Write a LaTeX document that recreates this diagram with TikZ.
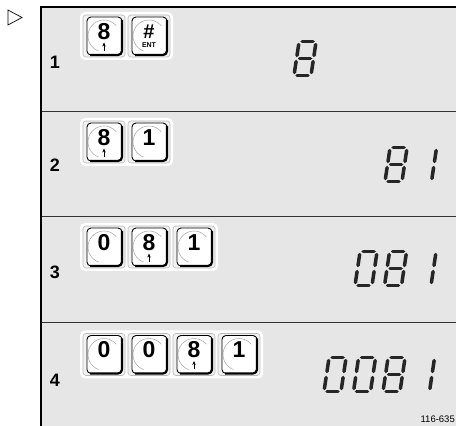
\documentclass[tikz,border=0pt]{standalone}
\usepackage{fontspec}
\setmainfont{Liberation Sans}
\usetikzlibrary{arrows.meta}
\definecolor{panelgrey}{RGB}{230,230,231}

% seven segment display, digit 17 wide and 34 high
\newcommand{\sega}{(3,34) -- (14,34)}
\newcommand{\segb}{(17,31) -- (17,20)}
\newcommand{\segc}{(17,14) -- (17,3)}
\newcommand{\segd}{(3,0) -- (14,0)}
\newcommand{\sege}{(0,3) -- (0,14)}
\newcommand{\segf}{(0,20) -- (0,31)}
\newcommand{\segg}{(3,17) -- (14,17)}
\newcommand{\lcddigit}[3]{%
  \begin{scope}[shift={(#1,#2)}, xslant=0.15]
    \foreach \s in {#3} {\draw[lcdseg] \csname seg\s\endcsname;}
  \end{scope}}

% one key of the keypad: name, x, y, label
\newcommand{\keycap}[4]{%
  \draw[keyrim] (#2-21,#3-21) rectangle (#2+21,#3+21);
  \fill[white, rounded corners=4pt] (#2-17,#3-19) rectangle (#2+18,#3+19);
  \draw[gray!70, line width=0.5pt] (#2,#3) ++(250:16) arc[start angle=250, end angle=40, radius=16];
  \draw[keyedge] (#2-17,#3-19) rectangle (#2+18,#3+19);
  \draw[keyshadow] (#2-14,#3-19) -- (#2+18,#3-19) -- (#2+18,#3+16);
  \node[keylabel] (#1) at (#2,#3+4.5) {#4};}
\newcommand{\keyarrow}[2]{%
  \draw[-{Stealth[length=4pt,width=3.4pt]}, line width=1pt] (#1,#2-15) -- (#1,#2-6.5);}

\begin{document}
\begin{tikzpicture}[x=1pt, y=1pt,
  keyrim/.style={draw=gray!55, fill=gray!10, line width=0.6pt, rounded corners=3pt},
  keyedge/.style={draw=black, line width=0.9pt, rounded corners=4pt},
  keyshadow/.style={draw=black, line width=2.2pt, rounded corners=4pt},
  keylabel/.style={font=\fontsize{23}{23}\selectfont\bfseries, inner sep=0pt},
  keypad/.style={fill=white, rounded corners=5pt},
  rownum/.style={font=\fontsize{18}{18}\selectfont\bfseries, inner sep=0pt},
  lcdseg/.style={line width=3.5pt, line cap=round, black!85}]
  \useasboundingbox (0,0) rectangle (456,426);

  % panel
  \fill[panelgrey] (41,0) rectangle (456,419);
  \draw[line width=1pt, black!80] (41,314) -- (456,314);
  \draw[line width=1pt, black!80] (41,209.5) -- (456,209.5);
  \draw[line width=1pt, black!80] (41,103) -- (456,103);
  \draw[line width=2pt] (41,0) -- (41,419) -- (456,419);
  \draw[line width=0.7pt, line join=miter] (8,416) -- (22,408.5) -- (8,401) -- cycle;

  % step numbers
  \node[rownum] (n1) at (55,363.5) {1};
  \node[rownum] (n2) at (55,261) {2};
  \node[rownum] (n3) at (55,154) {3};
  \node[rownum] (n4) at (55,46) {4};

  % step 1
  \fill[keypad] (80,366) rectangle (173,414);
  \keycap{k1a}{104}{390}{8}
  \keyarrow{104}{390}
  \keycap{k1b}{149}{390}{\fontsize{20}{20}\selectfont\#}
  \node[font=\fontsize{7}{7}\selectfont\bfseries, inner sep=0pt] (ent) at (149,381) {ENT};
  \lcddigit{294}{350.5}{a,b,c,d,e,f,g}

  % step 2
  \fill[keypad] (80,260) rectangle (173,308);
  \keycap{k2a}{104}{284}{8}
  \keyarrow{104}{284}
  \keycap{k2b}{149}{284}{1}
  \lcddigit{385}{244.5}{a,b,c,d,e,f,g}
  \lcddigit{414.5}{244.5}{b,c}

  % step 3
  \fill[keypad] (80,155) rectangle (218,203);
  \keycap{k3a}{104}{179}{0}
  \keycap{k3b}{149}{179}{8}
  \keyarrow{149}{179}
  \keycap{k3c}{194}{179}{1}
  \lcddigit{355}{140.5}{a,b,c,d,e,f}
  \lcddigit{384.5}{140.5}{a,b,c,d,e,f,g}
  \lcddigit{414}{140.5}{b,c}

  % step 4
  \fill[keypad] (80,47.5) rectangle (263,95.5);
  \keycap{k4a}{104}{71.5}{0}
  \keycap{k4b}{149}{71.5}{0}
  \keycap{k4c}{194}{71.5}{8}
  \keyarrow{194}{71.5}
  \keycap{k4d}{239}{71.5}{1}
  \lcddigit{324}{34.5}{a,b,c,d,e,f}
  \lcddigit{353.5}{34.5}{a,b,c,d,e,f}
  \lcddigit{383}{34.5}{a,b,c,d,e,f,g}
  \lcddigit{412.5}{34.5}{b,c}

  \node[font=\fontsize{9.5}{9.5}\selectfont, anchor=east, inner sep=0pt] (fig) at (455,6.5) {116-635};
\end{tikzpicture}
\end{document}
